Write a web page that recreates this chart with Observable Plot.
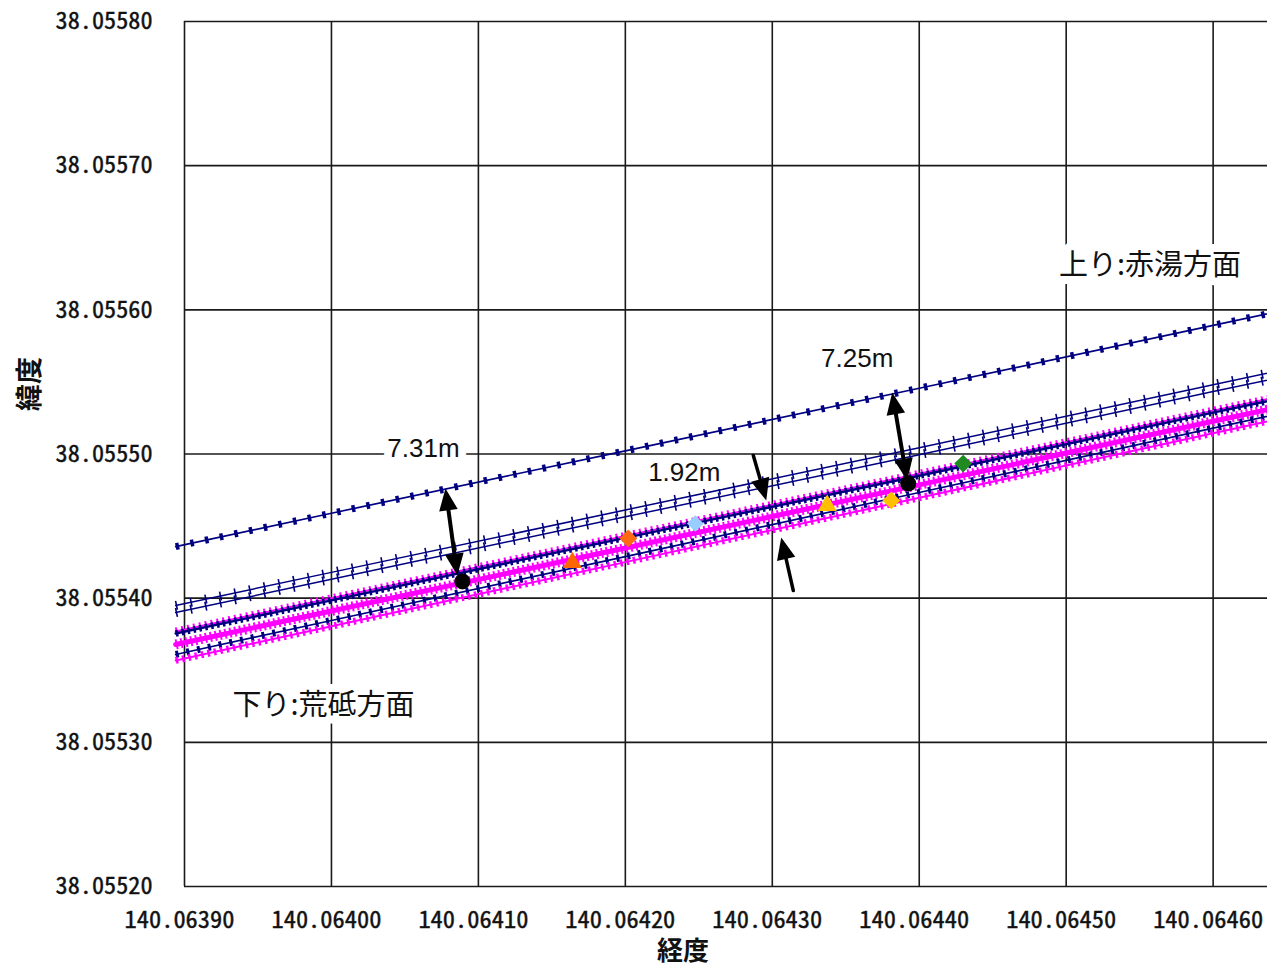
<!DOCTYPE html>
<html><head><meta charset="utf-8">
<script src="https://cdn.jsdelivr.net/npm/d3@7"></script>
<script src="https://cdn.jsdelivr.net/npm/@observablehq/plot@0.6"></script>
<style>html,body{margin:0;padding:0;background:#fff;overflow:hidden}svg{display:block}</style>
</head><body><div id="chart"></div>
<script>
// ---- data ----
const xTicks = [140.0639, 140.0640, 140.0641, 140.0642, 140.0643, 140.0644, 140.0645, 140.0646];
const yTicks = [38.0552, 38.0553, 38.0554, 38.0555, 38.0556, 38.0557, 38.0558];

const lonSamples      = [140.063894, 140.06400, 140.06420, 140.06440, 140.06460, 140.06465];
const upOuterLat      = [38.0554358, 38.0554589, 38.0555022, 38.0555456, 38.0555892, 38.0556001];
const upInner1Lat     = [38.0553949, 38.0554179, 38.0554612, 38.0555043, 38.0555481, 38.0555588];
const upInner2Lat     = [38.0553900, 38.0554131, 38.0554564, 38.0554995, 38.0555433, 38.0555540];
const downMagTopLat   = [38.0553769, 38.0553999, 38.0554432, 38.0554863, 38.0555301, 38.0555408];
const downNavyTopLat  = [38.0553755, 38.0553985, 38.0554418, 38.0554849, 38.0555287, 38.0555394];
const downMagMidLat   = [38.0553679, 38.0553911, 38.0554348, 38.0554786, 38.0555227, 38.0555336];
const downNavyLowLat  = [38.0553609, 38.0553845, 38.0554288, 38.0554733, 38.0555179, 38.0555290];
const downMagLowLat   = [38.0553568, 38.0553805, 38.0554250, 38.0554696, 38.0555144, 38.0555256];

const pointLon = [140.0640891, 140.0641640, 140.0642020, 140.0642476, 140.0643374, 140.0643810, 140.0643925, 140.0644299];
const pointLat = [38.0554116, 38.0554247, 38.0554414, 38.0554518, 38.0554643, 38.0554678, 38.0554795, 38.0554934];

const arrowFromLon = [140.0640776, 140.0643816, 140.0642871, 140.0643143];
const arrowFromLat = [38.0554761, 38.0555427, 38.0554990, 38.0554053];
const arrowToLon   = [140.0640857, 140.0643918, 140.0642959, 140.0643061];
const arrowToLat   = [38.0554157, 38.0554816, 38.0554678, 38.0554421];
const arrowDouble  = [true, true, false, false];

const distLabels = ["7.31m", "1.92m", "7.25m"];
const distLon = [140.0640626, 140.0642401, 140.0643578];
const distLat = [38.0555038, 38.0554872, 38.0555662];

const dirLabels = ["上り:赤湯方面", "下り:荒砥方面"];
const dirLon = [140.0645571, 140.0639946];
const dirLat = [38.0556308, 38.0553256];

const xLabel = "経度";
const yLabel = "緯度";

// ---- styles ----
const NAVY = "#000080", MAG = "#ff00ff";
const seriesDefs = [
  {lat: upInner1Lat,    color: NAVY, w: 1.5, mw: 9,  dash: "1.6 13.4"},
  {lat: upInner2Lat,    color: NAVY, w: 1.5, mw: 9,  dash: "1.6 13.4"},
  {lat: upOuterLat,     color: NAVY, w: 1.7, mw: 7,  dash: "3.5 11.5"},
  {lat: downMagTopLat,  color: MAG,  w: 2,   mw: 8,  dash: "2 4"},
  {lat: downNavyTopLat, color: NAVY, w: 2.4, mw: 6.5,dash: "2.5 3.5"},
  {lat: downMagMidLat,  color: MAG,  w: 5,   mw: 10, dash: "2 3"},
  {lat: downNavyLowLat, color: NAVY, w: 1.7, mw: 7,  dash: "3 8"},
  {lat: downMagLowLat,  color: MAG,  w: 2,   mw: 7,  dash: "2.5 4"}
];
const pointSymbol = ["circle", "triangle", "diamond2", "diamond2", "triangle", "diamond2", "circle", "diamond2"];
const pointColor  = ["#000000", "#ff6600", "#ff6a13", "#99ccff", "#ffc000", "#ffc000", "#000000", "#1f8a1f"];
const pointR      = [8, 7, 8, 7.5, 7, 8, 8, 8];

const xDomain = [140.0639, 140.064637];
const yDomain = [38.0552, 38.0558];
const base = {
  width: 1267, height: 970,
  marginLeft: 184, marginRight: 0, marginTop: 21, marginBottom: 84,
  x: {domain: xDomain}, y: {domain: yDomain},
  style: {fontFamily: "'Noto Sans Mono CJK JP','DejaVu Sans Mono',monospace", fontSize: "24px", color: "#111", background: "#fff"}
};

// tables
const arrows = arrowFromLon.map((_, i) => ({x1: arrowFromLon[i], y1: arrowFromLat[i], x2: arrowToLon[i], y2: arrowToLat[i], dbl: arrowDouble[i]}));
const dists = distLabels.map((t, i) => ({t, lon: distLon[i], lat: distLat[i]}));
const dirs = dirLabels.map((t, i) => ({t, lon: dirLon[i], lat: dirLat[i]}));

// arrow heads: tip location + direction (computed from plot scales)
const headsRaw = [];
arrows.forEach(a => {
  headsRaw.push({lon: a.x2, lat: a.y2, fx: a.x1, fy: a.y1});
  if (a.dbl) headsRaw.push({lon: a.x1, lat: a.y1, fx: a.x2, fy: a.y2});
});
const probe = Plot.plot({...base, marks: [Plot.dot(headsRaw, {x: "lon", y: "lat"})]});
const SX = probe.scale("x"), SY = probe.scale("y");
const heads = headsRaw.map(h => {
  const dx = SX.apply(h.lon) - SX.apply(h.fx), dy = SY.apply(h.lat) - SY.apply(h.fy);
  return {...h, angle: Math.atan2(dx, -dy) * 180 / Math.PI};
});

const arrowHead = {
  draw(ctx, size) {
    const s = Math.sqrt(size / Math.PI);
    ctx.moveTo(0, 0);
    ctx.lineTo(-0.85 * s, 2 * s);
    ctx.lineTo(0.85 * s, 2 * s);
    ctx.closePath();
  }
};

const lineMarks = [];
seriesDefs.forEach(s => {
  const rows = lonSamples.map((lon, i) => ({lon, lat: s.lat[i]}));
  lineMarks.push(Plot.line(rows, {x: "lon", y: "lat", stroke: s.color, strokeWidth: s.w}));
  lineMarks.push(Plot.line(rows, {x: "lon", y: "lat", stroke: s.color, strokeWidth: s.mw, strokeDasharray: s.dash, strokeLinecap: "butt"}));
});

const pointMarks = pointLon.map((lon, i) =>
  Plot.dot([{lon, lat: pointLat[i]}], {x: "lon", y: "lat", symbol: pointSymbol[i], r: pointR[i], fill: pointColor[i], stroke: "none"})
);

const plot = Plot.plot({
  ...base,
  marks: [
    Plot.gridX(xTicks, {stroke: "#1a1a1a", strokeOpacity: 1, strokeWidth: 1.6}),
    Plot.gridY(yTicks, {stroke: "#1a1a1a", strokeOpacity: 1, strokeWidth: 1.6}),
    Plot.axisX({ticks: xTicks, tickFormat: d => d.toFixed(5), tickSize: 0, tickPadding: 24, dx: -5, label: null, fill: "#111"}),
    Plot.axisY({ticks: yTicks, tickFormat: d => d.toFixed(5), tickSize: 0, tickPadding: 32, label: null, fill: "#111"}),
    ...lineMarks,
    ...pointMarks,
    Plot.arrow(arrows.filter(a => a.dbl), {x1: "x1", y1: "y1", x2: "x2", y2: "y2", headLength: 0, insetStart: 16, insetEnd: 16, stroke: "#000", strokeWidth: 4}),
    Plot.arrow(arrows.filter(a => !a.dbl), {x1: "x1", y1: "y1", x2: "x2", y2: "y2", headLength: 0, insetEnd: 16, stroke: "#000", strokeWidth: 3.5}),
    Plot.dot(heads, {x: "lon", y: "lat", symbol: arrowHead, r: 11, rotate: "angle", fill: "#000", stroke: "none"}),
    Plot.text(dists, {x: "lon", y: "lat", text: "t", fontFamily: "'Liberation Sans',Arial,sans-serif", fontSize: 26, fill: "#111", stroke: "#fff", strokeWidth: 16, paintOrder: "stroke"}),
    Plot.text(dirs, {x: "lon", y: "lat", text: "t", fontFamily: "'Noto Sans CJK JP',sans-serif", fontSize: 29, fill: "#111", stroke: "#fff", strokeWidth: 16, paintOrder: "stroke", style: "letter-spacing:1px"}),
    Plot.text([xLabel], {frameAnchor: "bottom", dx: -43, dy: 65, text: d => d, textAnchor: "middle", lineAnchor: "middle", fontFamily: "'Noto Sans CJK JP',sans-serif", fontSize: 26, fontWeight: "bold", fill: "#111"}),
    Plot.text([yLabel], {frameAnchor: "left", dx: -154, dy: -70, rotate: -90, text: d => d, textAnchor: "middle", lineAnchor: "middle", fontFamily: "'Noto Sans CJK JP',sans-serif", fontSize: 27, fontWeight: "bold", fill: "#111"})
  ]
});
document.getElementById("chart").appendChild(plot);

// condense the tick label glyphs horizontally and fit label widths (styling only)
function condense(sel, target) {
  const texts = plot.querySelectorAll(sel);
  if (!texts.length) return;
  const w = texts[0].getComputedTextLength();
  if (!w) return;
  const s = target / w;
  texts.forEach(t => {
    let tr = t.getAttribute("transform");
    if (!tr) {
      const x = parseFloat(t.getAttribute("x")) || 0;
      t.removeAttribute("x");
      tr = `translate(${x},0)`;
    }
    t.setAttribute("transform", `${tr} scale(${s},1)`);
  });
}
condense('g[aria-label="x-axis tick label"] text', 110);
condense('g[aria-label="y-axis tick label"] text', 97);
plot.querySelectorAll('g[aria-label$="tick label"] text').forEach(t => { t.setAttribute("stroke", "#111"); t.setAttribute("stroke-width", "0.4"); });
</script>
</body></html>
